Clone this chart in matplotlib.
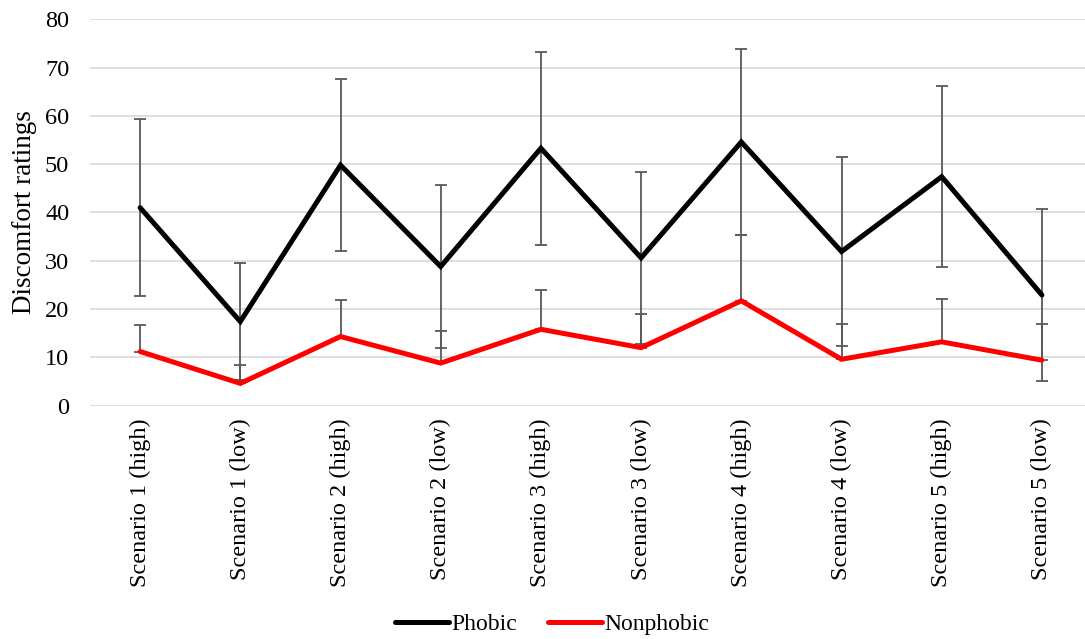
import numpy as np
import matplotlib.pyplot as plt

plt.rcParams['font.family'] = ['Liberation Serif', 'DejaVu Serif']

# Data
scenarios = ['Scenario 1 (high)', 'Scenario 1 (low)', 'Scenario 2 (high)', 'Scenario 2 (low)',
             'Scenario 3 (high)', 'Scenario 3 (low)', 'Scenario 4 (high)', 'Scenario 4 (low)',
             'Scenario 5 (high)', 'Scenario 5 (low)']
phobic = [41.0, 17.4, 49.8, 28.8, 53.3, 30.6, 54.6, 31.9, 47.4, 22.9]
phobic_err = [18.4, 12.2, 17.8, 16.8, 20.0, 17.8, 19.3, 19.6, 18.8, 17.9]
nonphobic = [11.2, 4.6, 14.3, 8.8, 15.8, 12.0, 21.7, 9.6, 13.2, 9.4]
nonphobic_err = [5.5, 3.8, 7.6, 6.6, 8.1, 7.0, 13.6, 7.4, 8.9, 7.6]

x = np.arange(len(scenarios))

fig = plt.figure(figsize=(10.85, 6.39), dpi=100)
ax = fig.add_axes([90 / 1085, 233.4 / 639, 1002 / 1085, 386.3 / 639])

# error bars (phobic both ways, nonphobic plus only)
ax.errorbar(x, phobic, yerr=phobic_err, fmt='none', ecolor='#595959',
            elinewidth=1.3, capsize=4, capthick=1.3, zorder=2)
ax.errorbar(x, nonphobic, yerr=[np.zeros(len(x)), nonphobic_err], fmt='none',
            ecolor='#595959', elinewidth=1.3, capsize=4, capthick=1.3, zorder=2)

ax.plot(x, phobic, color='black', lw=3.6, label='Phobic', zorder=3,
        solid_capstyle='round', solid_joinstyle='miter')
ax.plot(x, nonphobic, color='#ff0000', lw=3.6, label='Nonphobic', zorder=3,
        solid_capstyle='round', solid_joinstyle='miter')

ax.set_xlim(-0.5, len(x) - 0.5)
ax.set_ylim(0, 80)
ax.set_yticks(np.arange(0, 81, 10))
ax.set_xticks(x)
ax.set_xticklabels(scenarios, rotation=90, va='top')
ax.tick_params(axis='both', length=0, labelsize=17.5)
ax.tick_params(axis='y', pad=15)
ax.tick_params(axis='x', pad=9)
ax.grid(axis='y', color='#d9d9d9', lw=1.2, zorder=0)
ax.set_axisbelow(True)
for s in ax.spines.values():
    s.set_visible(False)

fig.text(25 / 1085, 1 - 212.5 / 639, 'Discomfort ratings', rotation=90,
         ha='center', va='center', fontsize=19.5)

fig.legend(loc='center', bbox_to_anchor=(552 / 1085, 1 - 624 / 639), ncol=2,
           frameon=False, fontsize=17, handlelength=2.3, handletextpad=0.1,
           columnspacing=1.3)

fig.savefig('out.png', dpi=100)
